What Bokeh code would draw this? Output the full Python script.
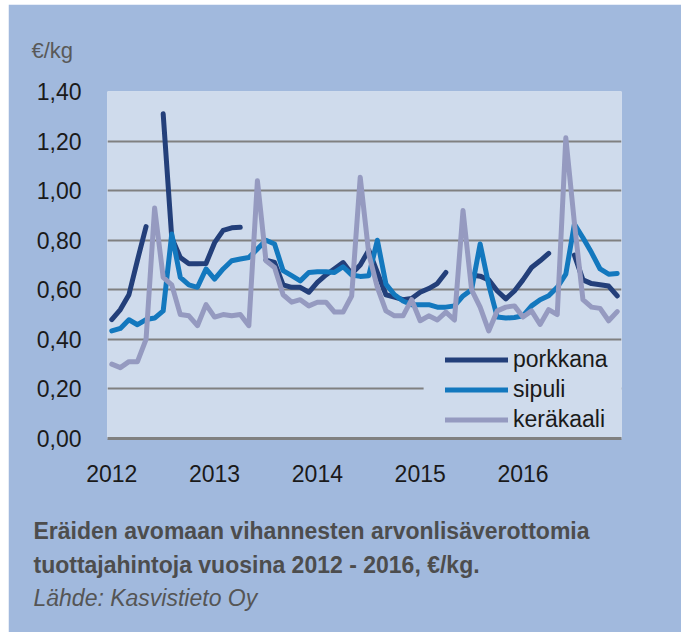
from bokeh.plotting import figure
from bokeh.layouts import row, column
from bokeh.models import (FixedTicker, CustomJSTickFormatter, Legend, Title,
                          LegendItem, BoxAnnotation, Range1d, Spacer)
from bokeh.embed import file_html
from bokeh.resources import INLINE

nan = float("nan")

# month index 0 = January 2012 ... 59 = December 2016
months = list(range(60))
year_ticks = [0, 12, 24, 36, 48]
year_labels = ["2012", "2013", "2014", "2015", "2016"]
y_ticks = [0.0, 0.2, 0.4, 0.6, 0.8, 1.0, 1.2, 1.4]

porkkana = [0.48, 0.52, 0.58, 0.72, 0.855, nan, 1.31, 0.81, 0.73, 0.705, 0.705, 0.706,
            0.79, 0.84, 0.85, 0.852, nan, nan, 0.72, 0.71, 0.62, 0.61, 0.61, 0.59,
            0.63, 0.66, 0.685, 0.71, 0.665, 0.70, 0.76, 0.67, 0.58, 0.57, 0.56, 0.565,
            0.59, 0.605, 0.625, 0.67, nan, nan, 0.66, 0.655, 0.64, 0.595, 0.563, 0.595,
            0.64, 0.69, 0.717, 0.747, nan, nan, 0.74, 0.64, 0.625, 0.62, 0.615, 0.575]

sipuli = [0.434, 0.444, 0.479, 0.459, 0.48, 0.486, 0.515, 0.825, 0.65, 0.62, 0.61, 0.684,
          0.643, 0.684, 0.717, 0.724, 0.73, 0.765, 0.80, 0.785, 0.677, 0.657, 0.636, 0.67,
          0.673, 0.673, 0.67, 0.693, 0.66, 0.654, 0.657, 0.80, 0.623, 0.58, 0.555, 0.54,
          0.54, 0.54, 0.53, 0.53, 0.535, 0.575, 0.60, 0.785, 0.62, 0.49, 0.486, 0.488,
          0.495, 0.535, 0.56, 0.576, 0.61, 0.663, 0.865, 0.81, 0.75, 0.684, 0.663, 0.666]

kerakaali = [0.30, 0.286, 0.31, 0.31, 0.40, 0.93, 0.65, 0.62, 0.50, 0.495, 0.455, 0.54,
             0.49, 0.50, 0.495, 0.50, 0.455, 1.04, 0.717, 0.69, 0.58, 0.55, 0.56, 0.535,
             0.55, 0.55, 0.51, 0.51, 0.575, 1.054, 0.745, 0.61, 0.515, 0.495, 0.495, 0.56,
             0.475, 0.495, 0.478, 0.51, 0.478, 0.92, 0.60, 0.53, 0.434, 0.515, 0.53, 0.535,
             0.49, 0.515, 0.46, 0.52, 0.50, 1.213, 0.87, 0.56, 0.53, 0.525, 0.475, 0.512]

caption_lines = ["Eräiden avomaan vihannesten arvonlisäverottomia",
                 "tuottajahintoja vuosina 2012 - 2016, €/kg."]
source_line = "Lähde: Kasvistieto Oy"
unit_label = "€/kg"

FONT = "Liberation Sans"
OUTER = "#a1b9dd"
INNER = "#cfdbec"
GRID = "#808080"
FS = "23px"

p = figure(width=673, height=628, output_backend="svg", toolbar_location=None,
           x_range=Range1d(-0.5, 59.5), y_range=Range1d(0, 1.4),
           min_border_left=99, min_border_right=60, min_border_top=87,
           min_border_bottom=194)
p.background_fill_color = INNER
p.border_fill_color = OUTER
p.outline_line_color = None

# unit label as the title
p.title.text = unit_label
p.title.align = "left"
p.title.offset = -76
p.title.standoff = 58
p.title.text_font = FONT
p.title.text_font_size = "22px"
p.title.text_font_style = "normal"
p.title.text_color = "#595959"

# axes
p.xaxis.ticker = FixedTicker(ticks=year_ticks)
p.xaxis.major_label_overrides = {t: l for t, l in zip(year_ticks, year_labels)}
p.xaxis.axis_line_color = GRID
p.xaxis.axis_line_width = 3
p.xaxis.major_tick_line_color = None
p.xaxis.minor_tick_line_color = None
p.xaxis.major_tick_out = 0
p.xaxis.major_tick_in = 0
p.xaxis.minor_tick_out = 0
p.xaxis.major_label_text_font = FONT
p.xaxis.major_label_text_font_size = FS
p.xaxis.major_label_text_color = "#1a1a1a"
p.xaxis.major_label_standoff = 26

p.yaxis.ticker = FixedTicker(ticks=y_ticks)
p.yaxis.formatter = CustomJSTickFormatter(code="return tick.toFixed(2).replace('.', ',');")
p.yaxis.axis_line_color = None
p.yaxis.major_tick_line_color = None
p.yaxis.minor_tick_line_color = None
p.yaxis.major_tick_out = 0
p.yaxis.major_tick_in = 0
p.yaxis.minor_tick_out = 0
p.yaxis.major_label_text_font = FONT
p.yaxis.major_label_text_font_size = FS
p.yaxis.major_label_text_color = "#1a1a1a"
p.yaxis.major_label_standoff = 26

p.xgrid.visible = False
p.ygrid.grid_line_color = GRID
p.ygrid.grid_line_width = 2

colors = ["#233f7a", "#1378be", "#959ac0"]
r1 = p.line(months, porkkana, line_width=5, line_color=colors[0], line_cap="round", line_join="round")
r2 = p.line(months, sipuli, line_width=5, line_color=colors[1], line_cap="round", line_join="round")
r3 = p.line(months, kerakaali, line_width=5, line_color=colors[2], line_cap="round", line_join="round")

# legend background panel
p.add_layout(BoxAnnotation(left=36.4, right=59.5, bottom=0.008, top=0.386,
                           fill_color=INNER, fill_alpha=1.0, line_color=None))

legend = Legend(items=[LegendItem(label="porkkana", renderers=[r1]),
                       LegendItem(label="sipuli", renderers=[r2]),
                       LegendItem(label="keräkaali", renderers=[r3])],
                location=(338, 5), glyph_width=63, glyph_height=27, label_height=27,
                spacing=3, padding=6, label_standoff=5,
                background_fill_alpha=0, border_line_color=None,
                label_text_font=FONT, label_text_font_size=FS,
                label_text_color="#1a1a1a")
p.add_layout(legend)

# spacing panel, then caption lines below the chart
p.add_layout(Title(text=" ", standoff=0, text_font=FONT, text_font_size=FS), "below")
cap_styles = [("bold", "#4d4d4d", 6), ("bold", "#4d4d4d", 6), ("italic", "#555555", 4)]
for txt, (style, col, so) in zip(caption_lines + [source_line], cap_styles):
    p.add_layout(Title(text=txt, align="left", offset=-74, standoff=so,
                       text_font=FONT, text_font_size=FS, text_font_style=style,
                       text_color=col), "below")

layout = row(Spacer(width=8, height=632),
             column(Spacer(width=673, height=4), p))

open("out.html", "w").write(file_html(layout, INLINE))
